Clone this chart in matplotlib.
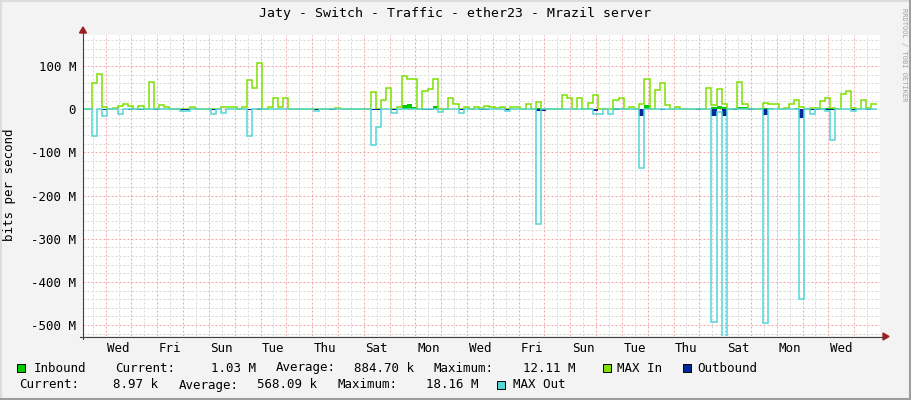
import matplotlib.pyplot as plt
from matplotlib.lines import Line2D
from matplotlib.patches import Rectangle, Polygon
import numpy as np

# ---------- data (Mbit/s) ----------
day_labels = ['Wed', 'Fri', 'Sun', 'Tue', 'Thu', 'Sat', 'Mon', 'Wed',
              'Fri', 'Sun', 'Tue', 'Thu', 'Sat', 'Mon', 'Wed']
ytick_vals = [100, 0, -100, -200, -300, -400, -500]
ytick_labels = ['100 M', '0', '-100 M', '-200 M', '-300 M', '-400 M', '-500 M']

# samples are 0.2 day wide, day 0 = first Wednesday 00:00
n_bins = 154
bin_start = -0.93
bin_width = 0.2

max_in_bins = [2, 3, 4, 6, 7, 8, 9, 11, 13, 15, 16, 21, 27, 28, 29, 31, 32, 33, 34,
               36, 37, 38, 39, 49, 56, 58, 59, 61, 62, 63, 64, 66, 67, 68, 71, 72,
               73, 74, 76, 77, 78, 79, 80, 81, 83, 84, 86, 88, 93, 94, 96, 98, 99,
               103, 104, 106, 108, 109, 110, 111, 112, 113, 115, 121, 122, 123, 124,
               127, 128, 132, 133, 134, 136, 137, 138, 139, 141, 142, 143, 144, 145,
               147, 148, 149, 151, 152, 153]
max_in_vals = [60, 81, 5, 2, 8, 11, 7, 8, 62, 9, 5, 4, 4, 4, 4, 4, 67, 50, 107,
               4, 25, 4, 25, 2, 39, 22, 50, 4, 78, 69, 69, 43, 46, 69, 25, 11,
               1.5, 4, 4, 2, 8, 4, 2, 4, 4, 4, 13, 17, 34, 25, 25, 15, 32,
               22, 25, 4, 13, 70, 1, 44, 60, 9, 5, 50, 9, 46, 12,
               64, 11, 15, 11, 11, 2, 11, 22, 4, 2, 2, 20, 25, 2,
               36, 43, 2, 22, 2, 11]

max_out_bins = [2, 4, 7, 19, 20, 25, 27, 32, 45, 56, 57, 60, 69, 73, 82, 88, 99, 100,
                102, 108, 122, 123, 124, 132, 139, 141, 144, 145, 149]
max_out_vals = [-63, -15, -12, -5, -5, -10, -8, -61, -3, -82, -42, -8, -6, -8, -3, -265,
                -12, -12, -10, -137, -494, -7, -540, -496, -440, -10, -5, -72, -5]

out_bins = [4, 9, 11, 14, 19, 20, 25, 32, 34, 45, 48, 56, 57, 60, 66, 67, 73, 77, 78,
            82, 88, 89, 99, 103, 108, 112, 119, 122, 124, 126, 129, 132, 139, 141,
            142, 144, 145, 149, 152]
out_vals = [-1.5, -1.5, -1.5, -1.5, -1.5, -1.5, -1.5, -1.5, -1.5, -1.5, -1.5, -1.5,
            -1.5, -1.5, -1.5, -1.5, -1.5, -2, -2, -2, -3, -3, -5, -1.5, -15, -1.5,
            -1.5, -15, -15, -1.5, -1.5, -14, -20, -1.5, -1.5, -1.5, -1.5, -1.5, -1.5]

in_bins = [34, 62, 63, 64, 68, 88, 98, 103, 104, 109, 122, 123, 124, 127, 128, 132,
           133, 138, 143, 144, 145]
in_vals = [2, 9, 12, 5, 7, 2, 3, 2, 2, 9, 6, 7, 5, 4, 4, 3, 3, 3, 2, 2, 2]

legend_row1 = ['Inbound', 'Current:', '1.03 M', 'Average:', '884.70 k', 'Maximum:', '12.11 M']
legend_row2 = ['Current:', '8.97 k', 'Average:', '568.09 k', 'Maximum:', '18.16 M']

C_IN = '#00cc00'
C_MAXIN = '#7ee000'
C_OUT = '#002a97'
C_MAXOUT = '#55d6d6'
BG = '#f3f3f3'
MONO = 'DejaVu Sans Mono'

W, H = 911, 400


def dense(bins, vals):
    a = np.zeros(n_bins)
    a[bins] = vals
    return a


def px(x, y):
    return x / W, 1 - y / H


edges = bin_start + bin_width * np.arange(n_bins + 1)

fig = plt.figure(figsize=(W / 100, H / 100), dpi=100, facecolor=BG)
ax = fig.add_axes([83 / W, 1 - 336 / H, (880 - 83) / W, (336 - 35) / H])
ax.set_facecolor('white')
ax.set_xlim(-0.879, 30.0)
ax.set_ylim(-525.3, 171.9)
for s in ax.spines.values():
    s.set_visible(False)

# grid
dots = (0, (2, 2))
for d in range(0, 31):
    ax.axvline(d - 0.5, color='#d8d8d8', lw=0.72, ls=dots, zorder=0.5)
    ax.axvline(d, color='#f4a6a6', lw=0.72, ls=dots, zorder=0.6)
for v in range(-520, 180, 20):
    if v % 100 == 0:
        ax.axhline(v, color='#f4a6a6', lw=0.72, ls=dots, zorder=0.6)
    else:
        ax.axhline(v, color='#d8d8d8', lw=0.72, ls=dots, zorder=0.5)

ax.stairs(dense(in_bins, in_vals), edges, baseline=0, fill=True, color=C_IN, zorder=2)
ax.stairs(dense(max_in_bins, max_in_vals), edges, baseline=None, color=C_MAXIN, lw=1.1, zorder=3)
ax.stairs(dense(out_bins, out_vals), edges, baseline=0, fill=True, color=C_OUT, zorder=4)
ax.stairs(dense(max_out_bins, max_out_vals), edges, baseline=None, color=C_MAXOUT, lw=1.1, zorder=5)

ax.set_xticks(np.arange(len(day_labels)) * 2 + 0.5, day_labels)
ax.set_yticks(ytick_vals, ytick_labels)
ax.tick_params(length=0, labelsize=9, colors='black')
ax.tick_params(axis='y', pad=5)
ax.tick_params(axis='x', pad=4)
for lab in ax.get_xticklabels() + ax.get_yticklabels():
    lab.set_family(MONO)

# axes lines + arrows
fig.add_artist(Line2D([px(80, 0)[0], px(885, 0)[0]], [px(0, 336.5)[1]] * 2, color='#404040', lw=0.8))
fig.add_artist(Line2D([px(83, 0)[0]] * 2, [px(0, 339)[1], px(0, 30)[1]], color='#404040', lw=0.8))
fig.add_artist(Polygon([px(883, 333), px(889, 336.5), px(883, 340)], closed=True, color='#a02020',
                       transform=fig.transFigure))
fig.add_artist(Polygon([px(79.5, 33), px(83, 27), px(86.5, 33)], closed=True, color='#a02020',
                       transform=fig.transFigure))

# texts
fig.text(*px(455, 14), 'Jaty - Switch - Traffic - ether23 - Mrazil server', ha='center', va='center',
         family=MONO, size=9.5)
fig.text(*px(10, 185), 'bits per second', rotation=90, ha='center', va='center', family=MONO, size=9)
fig.text(*px(904, 8), 'RRDTOOL / TOBI OETIKER', rotation=270, ha='center', va='top', family=MONO,
         size=5, color='#a0a0a0')


def box(x, y, c):
    fig.add_artist(Rectangle(px(x, y + 4), 8 / W, 8 / H, facecolor=c, edgecolor='black', lw=0.7,
                             transform=fig.transFigure))


row1_x = [34, 115, 210.6, 275.5, 354, 434, 522.6]
row2_x = [19, 113, 178.5, 256.6, 337.7, 425.7]
box(17, 368, C_IN)
for t, x in zip(legend_row1, row1_x):
    fig.text(*px(x, 368), t, ha='left', va='center', family=MONO, size=9)
box(603, 368, C_MAXIN)
fig.text(*px(617, 368), 'MAX In', ha='left', va='center', family=MONO, size=9)
box(683, 368, C_OUT)
fig.text(*px(697, 368), 'Outbound', ha='left', va='center', family=MONO, size=9)
for t, x in zip(legend_row2, row2_x):
    fig.text(*px(x, 385), t, ha='left', va='center', family=MONO, size=9)
box(497, 385, C_MAXOUT)
fig.text(*px(513, 385), 'MAX Out', ha='left', va='center', family=MONO, size=9)

# 3d-ish frame
fig.add_artist(Line2D([0, 1], [px(0, 0.5)[1]] * 2, color='#dcdcdc', lw=1.5))
fig.add_artist(Line2D([px(0.5, 0)[0]] * 2, [0, 1], color='#dcdcdc', lw=1.5))
fig.add_artist(Line2D([0, 1], [px(0, 399)[1]] * 2, color='#9e9e9e', lw=1.5))
fig.add_artist(Line2D([px(910, 0)[0]] * 2, [0, 1], color='#9e9e9e', lw=1.5))

fig.savefig('out.png', dpi=100, facecolor=BG)
